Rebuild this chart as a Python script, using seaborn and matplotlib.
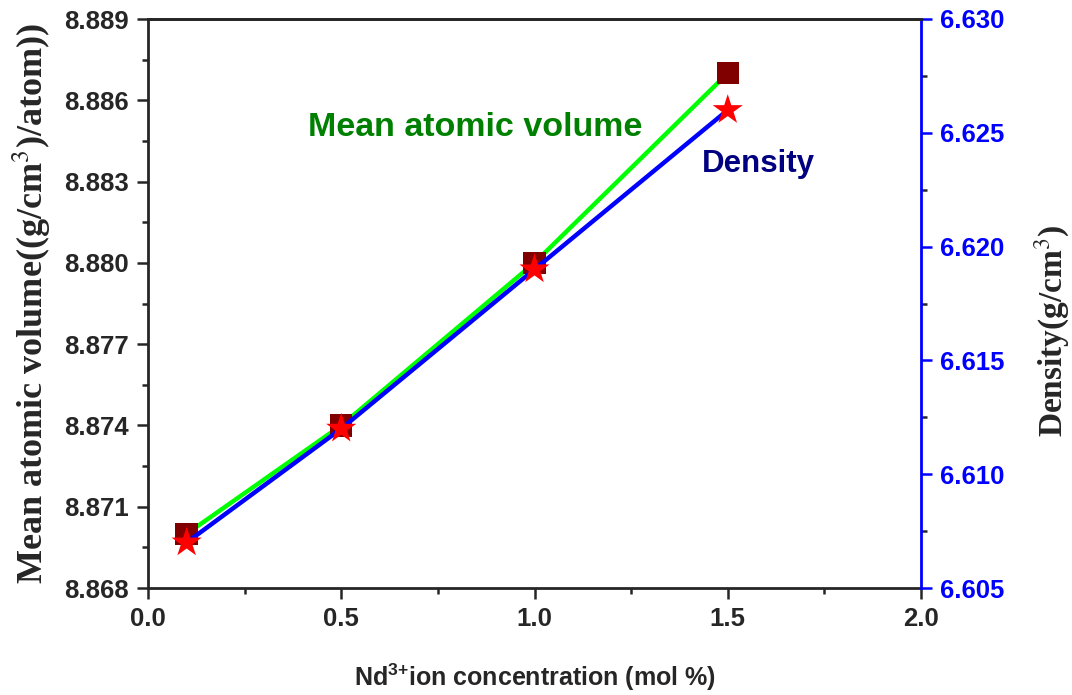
import numpy as np
import pandas as pd
import matplotlib
matplotlib.use("Agg")
import matplotlib.pyplot as plt
from matplotlib.ticker import MultipleLocator, FormatStrFormatter
import seaborn as sns

# -----------------------------
# Data
# -----------------------------
nd_conc = [0.1, 0.5, 1.0, 1.5]
mean_atomic_volume = [8.870, 8.874, 8.880, 8.887]
density = [6.607, 6.612, 6.619, 6.626]

data = pd.DataFrame({
    "NdConc": nd_conc,
    "MeanAtomicVolume": mean_atomic_volume,
    "Density": density,
})

sns.set_style("ticks")
plt.rcParams["font.family"] = ["Liberation Sans", "DejaVu Sans"]
plt.rcParams["mathtext.fontset"] = "custom"
plt.rcParams["mathtext.rm"] = "Liberation Sans:bold"
plt.rcParams["mathtext.bf"] = "Liberation Sans:bold"

fig = plt.figure(figsize=(10.72, 6.95), dpi=100)
ax = fig.add_axes([148 / 1072, 1 - 588 / 695, (921 - 148) / 1072, (588 - 19) / 695])
ax2 = ax.twinx()

# Mean atomic volume (left axis)
sns.lineplot(data=data, x="NdConc", y="MeanAtomicVolume", ax=ax,
             color="#00ff00", linewidth=3.2, zorder=2)
sns.scatterplot(data=data, x="NdConc", y="MeanAtomicVolume", ax=ax,
                marker="s", s=260, color="#800000", edgecolor="none", zorder=3)

# Density (right axis)
sns.lineplot(data=data, x="NdConc", y="Density", ax=ax2,
             color="#0000ff", linewidth=3.2, zorder=2)
sns.scatterplot(data=data, x="NdConc", y="Density", ax=ax2,
                marker="*", s=520, color="#ff0000", edgecolor="none", zorder=4)

# Axis limits and ticks
ax.set_xlim(0, 2.0)
ax.set_ylim(8.868, 8.889)
ax2.set_ylim(6.605, 6.630)

ax.xaxis.set_major_locator(MultipleLocator(0.5))
ax.xaxis.set_minor_locator(MultipleLocator(0.25))
ax.yaxis.set_major_locator(MultipleLocator(0.003))
ax.yaxis.set_minor_locator(MultipleLocator(0.0015))
ax2.yaxis.set_major_locator(MultipleLocator(0.005))
ax2.yaxis.set_minor_locator(MultipleLocator(0.0025))
ax.xaxis.set_major_formatter(FormatStrFormatter("%.1f"))
ax.yaxis.set_major_formatter(FormatStrFormatter("%.3f"))
ax2.yaxis.set_major_formatter(FormatStrFormatter("%.3f"))

for a in (ax, ax2):
    a.tick_params(which="major", direction="out", length=8, width=1.8, pad=6)
    a.tick_params(which="minor", direction="out", length=4.5, width=1.8)
    for sp in a.spines.values():
        sp.set_linewidth(2)

for lbl in ax.get_xticklabels() + ax.get_yticklabels():
    lbl.set_fontweight("bold")
    lbl.set_fontsize(18.5)
for lbl in ax2.get_yticklabels():
    lbl.set_fontweight("bold")
    lbl.set_fontsize(18.5)
    lbl.set_color("#0000ff")

ax.spines["right"].set_visible(False)
ax2.spines["left"].set_visible(False)
ax2.spines["bottom"].set_visible(False)
ax2.spines["right"].set_color("#0000ff")
ax2.tick_params(axis="y", colors="#0000ff")
ax.spines["top"].set_visible(True)

# Labels
ax.set_xlabel(r"Nd$^{\text{3+}}$ion concentration (mol %)", fontsize=18,
              fontweight="bold", labelpad=22)
ax.set_ylabel(r"Mean atomic volume((g/cm$^{3}$)/atom))", fontsize=26,
              fontweight="bold", family="Liberation Serif", labelpad=8)
ax2.set_ylabel(r"Density(g/cm$^{3}$)", fontsize=24, fontweight="bold",
               family="Liberation Serif", labelpad=20)
ax.yaxis.label.set_math_fontfamily("stix")
ax2.yaxis.label.set_math_fontfamily("stix")
ax2.yaxis.label.set_y(0.453)

# In-plot annotations
ax.text(0.423, 0.81, "Mean atomic volume", transform=ax.transAxes,
        color="#008000", fontsize=24.5, fontweight="bold", ha="center", va="center")
ax.text(0.789, 0.745, "Density", transform=ax.transAxes,
        color="#000080", fontsize=22.5, fontweight="bold", ha="center", va="center")

ax2.set_zorder(ax.get_zorder() + 1)
ax2.patch.set_visible(False)

fig.savefig("out.png", dpi=100)
